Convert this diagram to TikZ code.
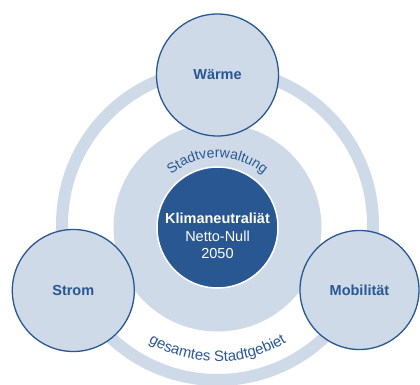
\documentclass[tikz,border=0pt]{standalone}
\usepackage{fontspec}
\setmainfont{Liberation Sans}
\usepackage{xcolor}
\usepackage{tikz}
\usetikzlibrary{decorations.text}
\definecolor{darkblue}{RGB}{41,87,146}
\definecolor{paleblue}{RGB}{206,218,232}

\begin{document}
\begin{tikzpicture}[x=1pt, y=1pt,
  topic/.style={circle, draw=darkblue, fill=paleblue, line width=1.3pt, minimum size=122pt, text=darkblue, font=\fontsize{14.5}{17}\selectfont\bfseries},
  arclabel/.style={decorate, decoration={text along path, text align=center, text={#1}}}]
\useasboundingbox (-217.5,-157.5) rectangle (202.5,227.5);
\coordinate (ctr) at (0,0);
% ring and disk behind everything
\draw[paleblue, line width=12pt] (0,3) circle [radius=155.5pt];
\fill[paleblue] (ctr) circle [radius=104pt];
\node (goal) [circle, fill=darkblue, draw=white, line width=1.5pt, minimum size=121pt] at (ctr) {};
\node (goaltext) [align=center, text=white, font=\fontsize{14.5}{17.8}\selectfont] at (0,-8.5) {\textbf{Klimaneutraliät}\\Netto-Null\\2050};
% curved labels
\path[arclabel={|\fontsize{14}{16}\selectfont\color{darkblue}|Stadtverwaltung}] (135:70pt) arc [start angle=135, end angle=45, radius=70pt];
\path[arclabel={|\fontsize{15}{17}\selectfont\color{darkblue}|gesamtes Stadtgebiet}] (215:134pt) arc [start angle=215, end angle=325, radius=134pt];
% the three fields
\node (waerme) [topic] at (0,152.5) {Wärme};
\node (strom) [topic] at (-144.2,-63) {Strom};
\node (mobil) [topic, minimum size=119pt] at (142,-62.5) {Mobilität};
\end{tikzpicture}
\end{document}
